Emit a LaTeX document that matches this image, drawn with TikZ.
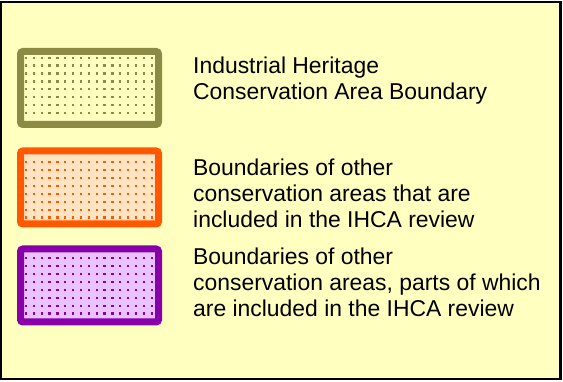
\documentclass[tikz,border=0pt]{standalone}
\usepackage{fontspec}
\setmainfont{Liberation Sans}

\definecolor{paper}{RGB}{255,255,192}
\definecolor{ihcaline}{RGB}{139,139,70}
\definecolor{ihcafill}{RGB}{255,255,192}
\definecolor{fullline}{RGB}{255,88,0}
\definecolor{fullfill}{RGB}{255,228,196}
\definecolor{partline}{RGB}{136,0,170}
\definecolor{partfill}{RGB}{234,194,255}

\tikzset{
  swatch/.style={line width=7pt, rounded corners=2.5pt},
  legendtext/.style={anchor=base west, inner sep=0pt, align=left,
    font=\fontsize{22.9}{25.8}\selectfont}
}

\begin{document}
\begin{tikzpicture}[x=1pt, y=-1pt]
  \useasboundingbox (0, 0) rectangle (563, 382);
  \fill[white] (0, 0) rectangle (563, 382);
  \draw[line width=2.5pt, fill=paper] (1.2, 1.8) rectangle (560.3, 378.8);

  % swatches
  \draw[swatch, draw=ihcaline, fill=ihcafill] (20.5, 51.5) rectangle (158.5, 124.5);
  \draw[swatch, draw=fullline, fill=fullfill] (20.5, 151) rectangle (158.5, 224);
  \draw[swatch, draw=partline, fill=partfill] (20.5, 249) rectangle (158.5, 322);

  \foreach \top/\col in {57.7/ihcaline, 162.3/fullline, 258.3/partline}
    \foreach \i in {0,...,16}
      \foreach \j in {0,...,7}
        \fill[\col] (24.9+\i*7.85, \top-1.1+\j*7.9) rectangle ++(2.3, 2.3);

  % base anchor sits on the last line
  \node[legendtext] (ihca) at (193, 99.6)
    {Industrial Heritage\\Conservation Area Boundary};
  \node[legendtext] (inside) at (193, 227.6)
    {Boundaries of other\\conservation areas that are\\included in the IHCA review};
  \node[legendtext] (partly) at (193, 316.6)
    {Boundaries of other\\conservation areas, parts of which\\are included in the IHCA review};
\end{tikzpicture}
\end{document}
